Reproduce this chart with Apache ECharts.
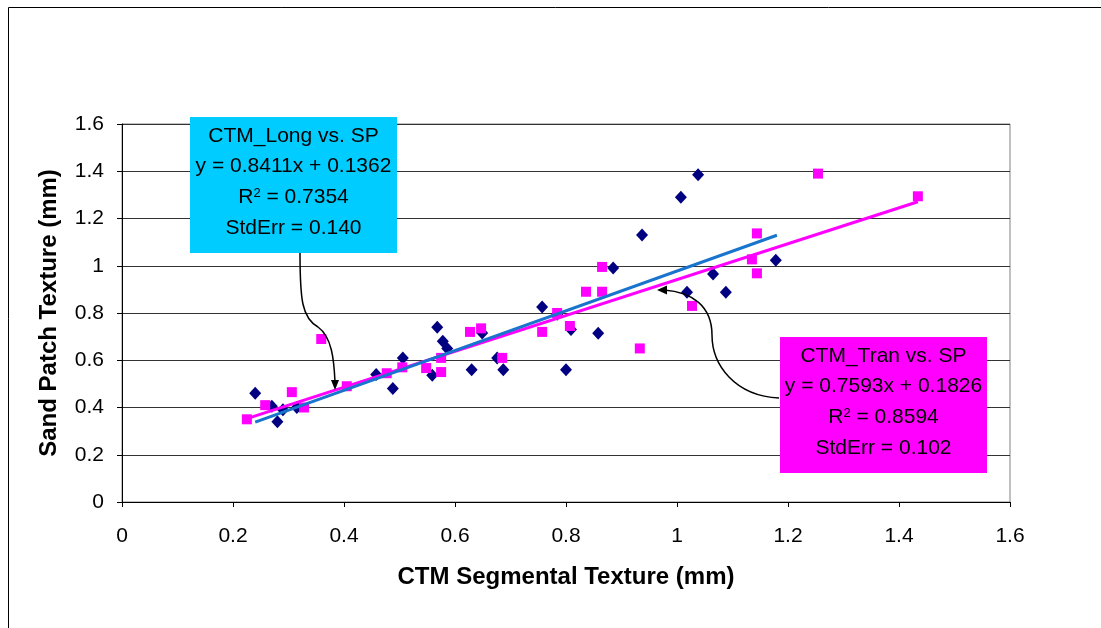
<!DOCTYPE html>
<html>
<head>
<meta charset="utf-8">
<script src="https://cdn.jsdelivr.net/npm/echarts@6/dist/echarts.min.js"></script>
<style>
html,body{margin:0;padding:0;background:#fff;}
#c{width:1101px;height:628px;}
</style>
</head>
<body>
<div id="c"></div>
<script>
// CTM_Long vs. SP (navy diamonds)
const longX = [0.24, 0.27, 0.28, 0.29, 0.315, 0.458, 0.488, 0.506, 0.559, 0.568, 0.578, 0.586, 0.63, 0.649, 0.676, 0.687, 0.757, 0.784, 0.809, 0.80, 0.858, 0.885, 0.937, 1.038, 1.007, 1.065, 1.018, 1.088, 1.178];
const longY = [0.46, 0.405, 0.34, 0.39, 0.40, 0.54, 0.48, 0.61, 0.537, 0.74, 0.68, 0.65, 0.56, 0.715, 0.61, 0.56, 0.825, 0.795, 0.73, 0.56, 0.714, 0.99, 1.13, 1.385, 1.29, 0.965, 0.888, 0.888, 1.023];
// CTM_Tran vs. SP (magenta squares)
const tranX = [0.225, 0.258, 0.306, 0.328, 0.359, 0.405, 0.477, 0.505, 0.548, 0.575, 0.575, 0.627, 0.647, 0.685, 0.757, 0.784, 0.807, 0.836, 0.865, 0.933, 0.865, 1.144, 1.135, 1.144, 1.027, 1.254, 1.434];
const tranY = [0.35, 0.41, 0.465, 0.40, 0.69, 0.49, 0.545, 0.57, 0.567, 0.61, 0.55, 0.72, 0.735, 0.61, 0.72, 0.80, 0.745, 0.89, 0.89, 0.65, 0.995, 1.137, 1.027, 0.968, 0.83, 1.39, 1.294];
// Trendline endpoints (consistent with shown equations)
const longTrendX = [0.24, 1.18];
const longTrendY = [0.338, 1.129];
const tranTrendX = [0.225, 1.434];
const tranTrendY = [0.353, 1.271];
// Axis ticks
const axisMin = 0, axisMax = 1.6, axisStep = 0.2;
const xTitle = 'CTM Segmental Texture (mm)';
const yTitle = 'Sand Patch Texture (mm)';
const longLabel = ['CTM_Long vs. SP', 'y = 0.8411x + 0.1362', 'R{sup|2} = 0.7354', 'StdErr = 0.140'];
const tranLabel = ['CTM_Tran vs. SP', 'y = 0.7593x + 0.1826', 'R{sup|2} = 0.8594', 'StdErr = 0.102'];

const zip = (a, b) => a.map((v, i) => [v, b[i]]);
const FONT = 'Liberation Sans, Arial, sans-serif';

const chart = echarts.init(document.getElementById('c'), null, {renderer: 'canvas'});

function boxTexts(lines, cx, ys) {
  return lines.map((t, i) => ({
    type: 'text', x: cx, y: ys[i], z: 110,
    style: {
      text: t, fill: '#000', font: '21px ' + FONT,
      align: 'center', verticalAlign: 'middle',
      rich: {sup: {fontSize: 13, verticalAlign: 'top', fontFamily: FONT, lineHeight: 12}}
    }
  }));
}
function curve(p) {
  return {type: 'bezierCurve', z: 110, silent: true,
    shape: {x1: p[0], y1: p[1], cpx1: p[2], cpy1: p[3], cpx2: p[4], cpy2: p[5], x2: p[6], y2: p[7]},
    style: {fill: 'none', stroke: '#000', lineWidth: 1.5}};
}

const option = {
  backgroundColor: '#fff',
  animation: false,
  grid: {left: 122, right: 91, top: 124, bottom: 126, show: true, borderColor: '#808080', borderWidth: 1, backgroundColor: '#fff'},
  xAxis: {
    type: 'value', min: axisMin, max: axisMax, interval: axisStep,
    name: xTitle, nameLocation: 'middle', nameGap: 63,
    nameTextStyle: {fontFamily: FONT, fontSize: 24, fontWeight: 'bold', color: '#000'},
    axisLine: {show: true, lineStyle: {color: '#000', width: 1}},
    axisTick: {show: true, inside: false, length: 5, lineStyle: {color: '#000'}},
    axisLabel: {fontFamily: FONT, fontSize: 21, color: '#000', margin: 24},
    splitLine: {show: false}
  },
  yAxis: {
    type: 'value', min: axisMin, max: axisMax, interval: axisStep,
    name: yTitle, nameLocation: 'middle', nameGap: 61, nameRotate: 90,
    nameTextStyle: {fontFamily: FONT, fontSize: 24, fontWeight: 'bold', color: '#000'},
    axisLine: {show: true, lineStyle: {color: '#000', width: 1}},
    axisTick: {show: true, inside: false, length: 5, lineStyle: {color: '#000'}},
    axisLabel: {fontFamily: FONT, fontSize: 21, color: '#000', margin: 18},
    splitLine: {show: true, lineStyle: {color: '#333', width: 1}}
  },
  series: [
    {name: 'CTM_Long', type: 'scatter', data: zip(longX, longY), symbol: 'diamond', symbolSize: [12, 13],
     itemStyle: {color: '#000080', opacity: 1}, z: 2},
    {name: 'CTM_Tran', type: 'scatter', data: zip(tranX, tranY), symbol: 'rect', symbolSize: 10,
     itemStyle: {color: '#FF00FF', opacity: 1}, z: 3},
    {name: 'Tran trend', type: 'line', data: zip(tranTrendX, tranTrendY), symbol: 'none',
     lineStyle: {color: '#FF00FF', width: 3}, z: 4},
    {name: 'Long trend', type: 'line', data: zip(longTrendX, longTrendY), symbol: 'none',
     lineStyle: {color: '#1874CD', width: 3}, z: 5}
  ],
  graphic: [
    {type: 'rect', shape: {x: 8.5, y: 7.5, width: 1200, height: 700}, style: {fill: 'none', stroke: '#000', lineWidth: 1}, z: 100, silent: true},
    {type: 'rect', shape: {x: 190, y: 117, width: 207, height: 136}, style: {fill: '#00CCFF'}, z: 105},
    {type: 'rect', shape: {x: 780, y: 337, width: 207, height: 136}, style: {fill: '#FF00FF'}, z: 105},
    ...boxTexts(longLabel, 293.5, [136, 166, 197, 228]),
    ...boxTexts(tranLabel, 883.5, [356, 386, 417, 448]),
    curve([300, 253, 300, 300, 302, 318, 318, 327]),
    curve([318, 327, 332, 337, 334, 360, 335, 382]),
    {type: 'polygon', shape: {points: [[335, 390], [331, 380], [339, 380]]}, style: {fill: '#000'}, z: 110},
    curve([779, 398, 735, 396, 712, 365, 712, 335]),
    curve([712, 335, 712, 306, 692, 292, 664, 290]),
    {type: 'polygon', shape: {points: [[657, 290], [667, 285.5], [667, 294.5]]}, style: {fill: '#000'}, z: 110}
  ]
};
chart.setOption(option);
</script>
</body>
</html>
